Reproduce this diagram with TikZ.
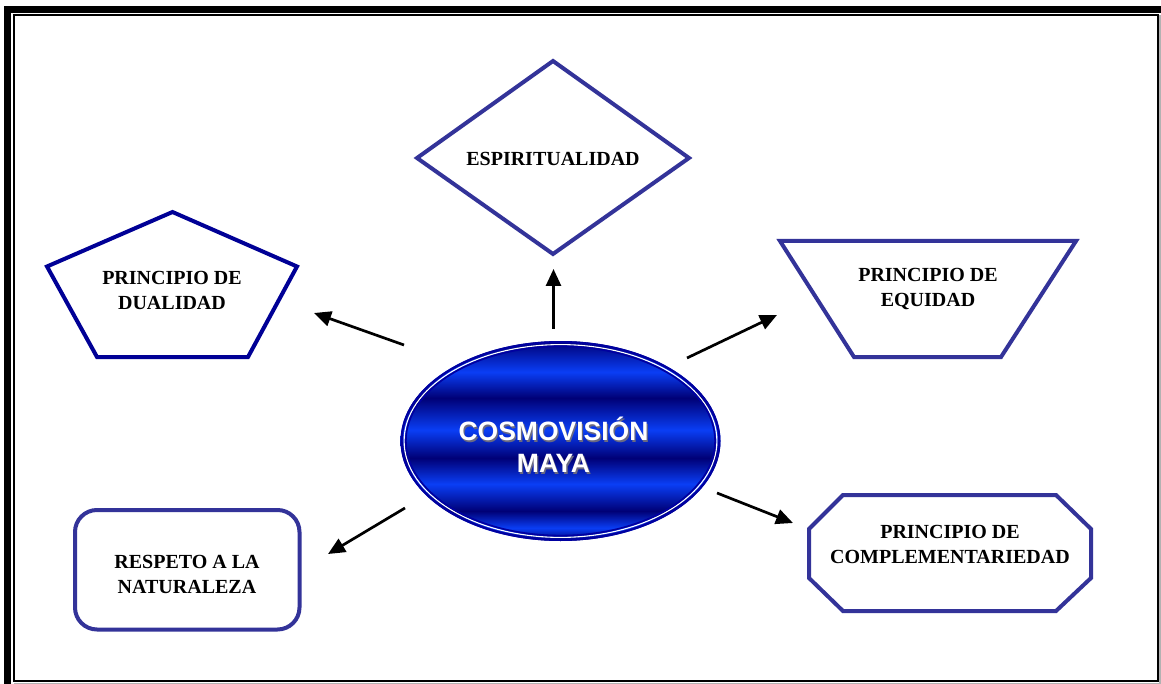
\documentclass[tikz,border=0pt]{standalone}
\usepackage{fontspec}
\setmainfont{Liberation Serif}
\newfontfamily\arialfont{Liberation Sans}
\usetikzlibrary{arrows.meta,shapes.geometric}
\definecolor{shapeblue}{RGB}{51,51,153}
\definecolor{pentblue}{RGB}{0,0,150}
\definecolor{bandbright}{RGB}{10,62,245}
\definecolor{banddark}{RGB}{0,0,118}
\definecolor{ellnavy}{RGB}{0,0,160}
\definecolor{txtshadow}{RGB}{105,105,130}
\pgfdeclareverticalshading{ellband}{100bp}{color(0bp)=(banddark); color(25bp)=(banddark); color(28.25bp)=(bandbright); color(32.5bp)=(banddark); color(39.25bp)=(bandbright); color(45.75bp)=(banddark); color(52.75bp)=(bandbright); color(60.75bp)=(banddark); color(67.25bp)=(bandbright); color(75bp)=(banddark); color(100bp)=(banddark)}
\tikzset{
  shapeline/.style={draw=shapeblue, line width=4pt, line join=miter},
  lbl/.style={font=\bfseries\fontsize{20}{25}\selectfont, align=center, text=black, inner sep=0pt},
  elltext/.style={font=\arialfont\bfseries\fontsize{26.5}{32}\selectfont, align=center, inner sep=0pt},
  arr/.style={-{Triangle[length=17pt,width=15pt]}, line width=2.7pt, black},
}
\begin{document}
\begin{tikzpicture}[x=1pt,y=-1pt]
\useasboundingbox (0,0) rectangle (1161,684);
\fill[white] (0,0) rectangle (1161,684);
% frame
\fill[black] (4,6) rectangle (11,684);
\fill[black] (4,6) rectangle (1161,12.7);
\draw[black, line width=2pt] (14,15) rectangle (1157.5,681);
\draw[gray!60, line width=1.2pt] (1160,15) -- (1160,684);
\draw[gray!60, line width=1.2pt] (14,683.4) -- (1161,683.4);

% diamond
\draw[shapeline] (553,61) -- (689,158) -- (553,254) -- (417,158) -- cycle;
\node[lbl] (espi) at (553,158.5) {ESPIRITUALIDAD};

% pentagon
\draw[shapeline, draw=pentblue] (172.5,212) -- (297,266.5) -- (248,357) -- (97,357) -- (47,266.5) -- cycle;
\node[lbl] (dual) at (172,290.5) {PRINCIPIO DE\\DUALIDAD};

% trapezoid
\draw[shapeline] (780,241) -- (1076,241) -- (1001,357) -- (854,357) -- cycle;
\node[lbl] (equi) at (928,289.5) {PRINCIPIO DE\\EQUIDAD};

% rounded rectangle
\draw[shapeline, rounded corners=22pt] (75,510) rectangle (299.5,629.5);
\node[lbl] (resp) at (187,574.5) {RESPETO A LA\\NATURALEZA};

% octagon
\draw[shapeline] (843,495) -- (1056,495) -- (1091,529) -- (1091,578) -- (1056,611) -- (843,611) -- (809,578) -- (809,529) -- cycle;
\node[lbl] (comp) at (950,544) {PRINCIPIO DE\\COMPLEMENTARIEDAD};

% central ellipse
\node[ellipse, minimum width=320pt, minimum height=200pt, inner sep=0pt, shading=ellband] (cm) at (560.5,441) {};
\draw[ellnavy, line width=2.2pt] (cm.center) ellipse [x radius=158.9pt, y radius=98.9pt];
\draw[white, line width=1.1pt] (cm.center) ellipse [x radius=156.4pt, y radius=96.4pt];
\draw[ellnavy, line width=1.6pt] (cm.center) ellipse [x radius=154.6pt, y radius=94.6pt];
\coordinate (tc) at (553.5,445);
\node[elltext, text=txtshadow] at ([xshift=1.3pt,yshift=-1.3pt]tc) {COSMOVISIÓN\\MAYA};
\node[elltext, text=white] (cmt) at (tc) {COSMOVISIÓN\\MAYA};

% arrows
\coordinate (aU0) at (553.5,329);  \coordinate (aU1) at (553.5,269);
\coordinate (aUL0) at (404,345);   \coordinate (aUL1) at (314,313);
\coordinate (aUR0) at (687,358);   \coordinate (aUR1) at (777,315);
\coordinate (aLR0) at (717,493);   \coordinate (aLR1) at (793,523);
\coordinate (aLL0) at (405,508);   \coordinate (aLL1) at (328,554);
\draw[arr] (aU0) -- (aU1);
\draw[arr] (aUL0) -- (aUL1);
\draw[arr] (aUR0) -- (aUR1);
\draw[arr] (aLR0) -- (aLR1);
\draw[arr] (aLL0) -- (aLL1);
\end{tikzpicture}
\end{document}
